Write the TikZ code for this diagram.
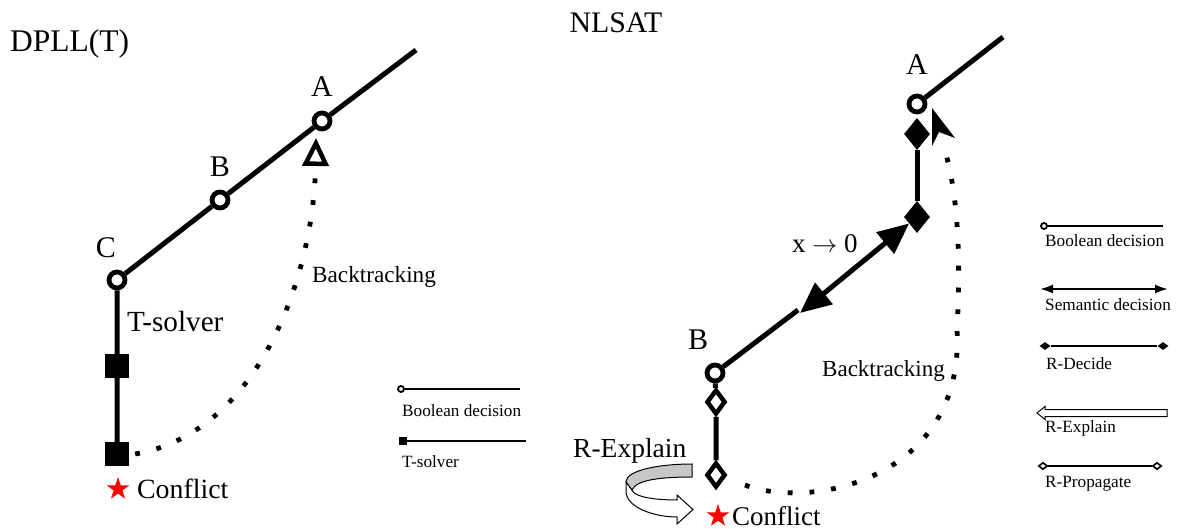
\documentclass[tikz,border=0pt]{standalone}
\usepackage{fontspec}
\setmainfont{Liberation Serif}
\usetikzlibrary{shapes.geometric,arrows.meta}

\newcommand{\fs}[1]{\fontsize{#1}{#1}\selectfont}

\tikzset{
  main/.style={line width=5pt},
  dotpath/.style={line width=4.8pt, dash pattern=on 4.8pt off 17pt},
  bool/.style={circle, draw, line width=4.8pt, fill=white, minimum size=16pt, inner sep=0pt},
  tsq/.style={rectangle, fill=black, minimum size=24pt, inner sep=0pt},
  rdec/.style={diamond, fill=black, minimum width=26pt, minimum height=32pt, inner sep=0pt},
  rprop/.style={diamond, draw, line width=4.5pt, fill=white, minimum width=19pt, minimum height=25pt, inner sep=0pt},
  redstar/.style={star, star points=5, star point ratio=2.6, fill=red, minimum size=24pt, inner sep=0pt},
  big/.style={inner sep=0pt, font=\fs{30}},
  mid/.style={inner sep=0pt, font=\fs{27.5}},
  small/.style={inner sep=0pt, font=\fs{23.2}},
  tiny/.style={inner sep=0pt, font=\fs{17.2}},
  leg/.style={line width=2pt},
  lbool/.style={circle, draw, line width=1.8pt, fill=white, minimum size=6pt, inner sep=0pt},
  lsq/.style={rectangle, fill=black, minimum size=8pt, inner sep=0pt},
  ldec/.style={diamond, fill=black, minimum width=11pt, minimum height=8pt, inner sep=0pt},
  lprop/.style={diamond, draw, line width=1.6pt, fill=white, minimum width=9pt, minimum height=7pt, inner sep=0pt},
  semhead/.tip={Triangle[length=31pt, width=27pt]},
}

\begin{document}
\begin{tikzpicture}[x=1pt, y=-1pt]
\useasboundingbox (0,0) rectangle (1189,529);

% ---------------- DPLL(T) ----------------
\node[anchor=base west, inner sep=0pt, font=\fs{31.5}] (tdpll) at (10,52) {DPLL(T)};

\coordinate (Ltop) at (416,50);
\node[bool] (LA) at (322,121) {};
\node[bool] (LB) at (220,200) {};
\node[bool] (LC) at (117,280) {};
\node[tsq] (T1) at (117,366) {};
\node[tsq] (T2) at (117,454) {};

\draw[main] (Ltop) -- (LA) -- (LB) -- (LC) -- (T1) -- (T2);

\node[big, anchor=base] (lblLA) at (322,97) {A};
\node[big, anchor=base] (lblLB) at (220,177) {B};
\node[big, anchor=base] (lblLC) at (106,258) {C};
\node[big, anchor=base west, font=\fs{29.2}] (lblT) at (127,332) {T-solver};
\node[small, anchor=base west] (lblBT) at (312,283) {Backtracking};

\coordinate (Lbt) at (316,138);
\draw[dotpath, -{Triangle[open, length=28pt, width=26pt, line width=4.5pt]}]
  ([xshift=6pt]T2.east) .. controls (262,432) and (314,270) .. (Lbt);

\node[redstar] (Lstar) at (118,489) {};
\node[mid, anchor=base west, font=\fs{27.8}] (Lconf) at (137,498) {Conflict};

% legend (DPLL(T))
\node[lbool] (m1) at (401,389) {};
\coordinate (m1e) at (520,389);
\draw[leg] (m1) -- (m1e);
\node[tiny, anchor=base west] (m1t) at (402,416) {Boolean decision};
\node[lsq] (m2) at (403,441) {};
\coordinate (m2e) at (526,441);
\draw[leg] (m2) -- (m2e);
\node[tiny, anchor=base west] (m2t) at (402,467) {T-solver};

% ---------------- NLSAT ----------------
\node[anchor=base, inner sep=0pt, font=\fs{29.8}] (tnl) at (616,33) {NLSAT};

\coordinate (Rtop) at (1003,37);
\node[bool] (RA) at (917,104) {};
\node[rdec] (D1) at (917,134) {};
\node[rdec] (D2) at (917,217) {};
\coordinate (S) at (798,310);
\node[bool] (RB) at (715,373) {};
\node[rprop] (P1) at (716,402) {};
\node[rprop] (P2) at (716,475) {};

\draw[main] (Rtop) -- (RA);
\draw[main] (D1) -- (D2);
\draw[main] (RB) -- (S);
\draw[main] (RB) -- (P1) -- (P2);
\draw[main, semhead-semhead]
  ([shift={(2pt,-3pt)}]S) -- (D2);

\node[big, anchor=base] (lblRA) at (917,75) {A};
\node[big, anchor=base] (lblRB) at (698,350) {B};
\node[mid, anchor=base west, font=\fs{27}] (lblx) at (792,253) {x $\rightarrow$ 0};
\node[small, anchor=base west, font=\fs{23}] (lblRBT) at (822,377) {Backtracking};
\node[mid, anchor=base west] (lblRE) at (573,457) {R-Explain};

% backtracking from the conflict up to A
\coordinate (Rbs) at (745,485);
\coordinate (Rbm) at (957,330);
\coordinate (Rbe) at (942,142);
\draw[dotpath] (Rbs) .. controls (810,510) and (965,480) .. (Rbm)
  .. controls (962,240) and (955,177) .. (Rbe);
\fill (932,108) -- (955,138) -- (939,132) -- (932,146) -- cycle;

% curled R-Explain arrow
\draw[line width=1pt, fill=white]
  (626,482) -- (626,492) .. controls (627,508) and (655,517) .. (677,517)
  -- (677,524) -- (693,509.5) -- (677,495) -- (677,500)
  .. controls (655,500) and (634,497) .. (632,490) -- cycle;
\draw[line width=1pt, fill=black!22]
  (692,464) .. controls (660,464) and (626,470) .. (626,482)
  -- (632,490) .. controls (636,480) and (660,477) .. (692,477) -- cycle;

\node[redstar] (Rstar) at (718,516) {};
\node[mid, anchor=base west, font=\fs{27}] (Rconf) at (732,525) {Conflict};

% legend (NLSAT)
\node[lbool] (n1) at (1044,226) {};
\coordinate (n1e) at (1163,226);
\draw[leg] (n1) -- (n1e);
\node[tiny, anchor=base west] (n1t) at (1045,247) {Boolean decision};

\coordinate (n2s) at (1040,289);
\coordinate (n2e) at (1168,289);
\draw[leg, {Latex[length=13pt, width=9pt]}-{Latex[length=13pt, width=9pt]}] (n2s) -- (n2e);
\node[tiny, anchor=base west] (n2t) at (1045,311) {Semantic decision};

\node[ldec] (n3a) at (1045,346) {};
\node[ldec] (n3b) at (1163,346) {};
\draw[leg] (n3a) -- (n3b);
\node[tiny, anchor=base west] (n3t) at (1046,370) {R-Decide};

\draw[line width=1pt, fill=white]
  (1037,413) -- (1045,406.5) -- (1045,409.5) -- (1167,409.5) -- (1167,416.5)
  -- (1045,416.5) -- (1045,419.5) -- cycle;
\node[tiny, anchor=base west] (n4t) at (1045,432) {R-Explain};

\node[lprop] (n5a) at (1043,466) {};
\node[lprop] (n5b) at (1157,466) {};
\draw[leg] (n5a) -- (n5b);
\node[tiny, anchor=base west] (n5t) at (1045,487) {R-Propagate};

\end{tikzpicture}
\end{document}
